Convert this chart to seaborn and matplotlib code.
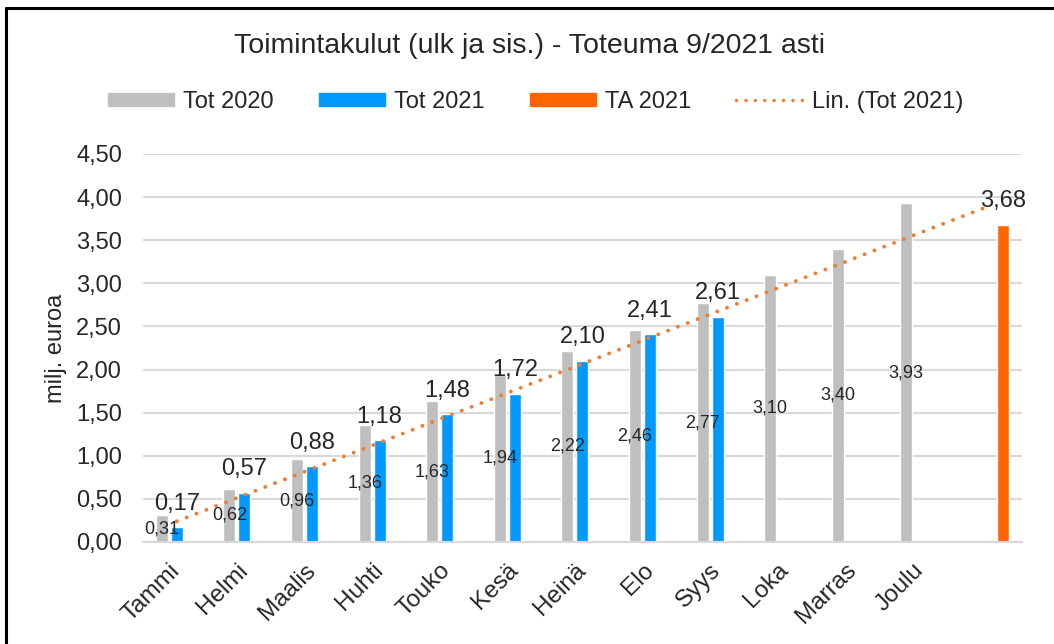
import numpy as np
import pandas as pd
import seaborn as sns
import matplotlib.pyplot as plt
from matplotlib.lines import Line2D
from matplotlib.patches import Patch
from matplotlib.ticker import FuncFormatter

months = ['Tammi', 'Helmi', 'Maalis', 'Huhti', 'Touko', 'Kesä', 'Heinä',
          'Elo', 'Syys', 'Loka', 'Marras', 'Joulu', ' ']
tot_2020 = [0.31, 0.62, 0.96, 1.36, 1.63, 1.94, 2.22, 2.46, 2.77, 3.10, 3.40, 3.93]
tot_2021 = [0.17, 0.57, 0.88, 1.18, 1.48, 1.72, 2.10, 2.41, 2.61]
ta_2021 = [3.68]
series = ['Tot 2020', 'Tot 2021', 'TA 2021']
colors = ['#BFBFBF', '#0099FF', '#FF6600']
trend_color = '#ED7D31'

rows = []
for m, v in zip(months, tot_2020):
    rows.append((m, 'Tot 2020', v))
for m, v in zip(months, tot_2021):
    rows.append((m, 'Tot 2021', v))
rows.append((months[-1], 'TA 2021', ta_2021[0]))
df = pd.DataFrame(rows, columns=['kk', 'sarja', 'arvo'])

sns.set_style('white')
plt.rcParams['font.family'] = ['Liberation Sans', 'DejaVu Sans']

fig = plt.figure(figsize=(10.54, 6.44), dpi=100)
ax = fig.add_axes([0.1357, 0.1584, 0.8339, 0.6025])

sns.barplot(data=df, x='kk', y='arvo', hue='sarja', order=months,
            hue_order=series, palette=colors, width=0.666, gap=0.2,
            errorbar=None, legend=False, ax=ax, saturation=1)

# linear trend of Tot 2021, extended to the last slot
xs = np.arange(len(tot_2021))
k, b = np.polyfit(xs, tot_2021, 1)
xt = np.array([0, len(months) - 1])
sns.lineplot(x=xt, y=k * xt + b, ax=ax, color=trend_color, lw=2.8,
             linestyle=(0, (0.01, 2.7)), dash_capstyle='round')

fmt = lambda v: f'{v:.2f}'.replace('.', ',')
ax.bar_label(ax.containers[0], labels=[fmt(v) for v in tot_2020],
             label_type='center', fontsize=13)
ax.bar_label(ax.containers[1], labels=[fmt(v) for v in tot_2021],
             padding=9, fontsize=17)
ax.bar_label(ax.containers[2], labels=[fmt(v) for v in ta_2021],
             padding=9, fontsize=17)

ax.set_xlim(-0.5, len(months) - 0.5)
ax.set_ylim(0, 4.5)
ax.set_yticks(np.arange(0, 4.51, 0.5))
ax.yaxis.set_major_formatter(FuncFormatter(lambda v, p: f'{v:.2f}'.replace('.', ',')))
ax.grid(axis='y', color='#D9D9D9', lw=1.5)
ax.set_axisbelow(True)
for s in ['top', 'right', 'left']:
    ax.spines[s].set_visible(False)
ax.spines['bottom'].set_color('#D9D9D9')
ax.spines['bottom'].set_linewidth(1.5)
ax.tick_params(axis='y', length=0, pad=15, labelsize=17)
ax.tick_params(axis='x', length=0, pad=18, labelsize=17.5)
plt.setp(ax.get_xticklabels(), rotation=45, ha='right', va='center',
         rotation_mode='anchor')
ax.set_xlabel('')
ax.set_ylabel('milj. euroa', fontsize=17, labelpad=7)

fig.text(0.502, 0.928, 'Toimintakulut (ulk ja sis.) - Toteuma 9/2021 asti',
         ha='center', va='center', fontsize=20.5)

handles = [Patch(color=c) for c in colors]
handles.append(Line2D([], [], color=trend_color, lw=2.5,
                      linestyle=(0, (0.01, 2.7)), dash_capstyle='round'))
fig.legend(handles, series + ['Lin. (Tot 2021)'], loc='center',
           bbox_to_anchor=(0.508, 0.842), ncol=4, frameon=False,
           fontsize=17, handlelength=2.8, handleheight=0.5,
           columnspacing=1.9, handletextpad=0.4)

# chart frame: only top and left edges are visible in the picture
fig.add_artist(Line2D([0.0055, 1.0], [0.9875, 0.9875], transform=fig.transFigure,
                      color='black', lw=2.2))
fig.add_artist(Line2D([0.0055, 0.0055], [0.0, 0.9875], transform=fig.transFigure,
                      color='black', lw=2.2))

fig.savefig('out.png', dpi=100)
